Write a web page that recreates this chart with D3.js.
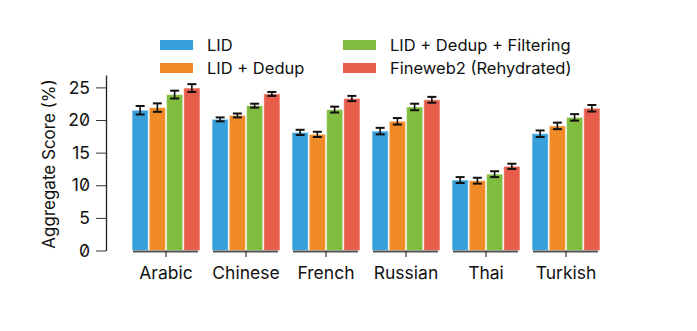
<!DOCTYPE html>
<html><head><meta charset="utf-8">
<script src="https://cdn.jsdelivr.net/npm/d3@7/dist/d3.min.js"></script>
<style>
body{margin:0;background:#fff;}
svg{font-family:Inter,"Noto Sans",sans-serif;font-feature-settings:"zero" 1;}
</style></head>
<body><svg id="c" width="697" height="331"></svg>
<script>
const categories = ["Arabic","Chinese","French","Russian","Thai","Turkish"];
const seriesNames = ["LID","LID + Dedup","LID + Dedup + Filtering","Fineweb2 (Rehydrated)"];
const lidValues      = [21.5, 20.1, 18.1, 18.3, 10.8, 17.9];
const dedupValues    = [21.9, 20.7, 17.8, 19.8, 10.7, 19.1];
const filterValues   = [23.9, 22.2, 21.6, 22.0, 11.7, 20.4];
const fineweb2Values = [24.9, 24.0, 23.3, 23.1, 12.9, 21.8];
const lidErr      = [0.65, 0.3, 0.4, 0.5, 0.45, 0.5];
const dedupErr    = [0.65, 0.3, 0.4, 0.5, 0.45, 0.5];
const filterErr   = [0.6, 0.3, 0.45, 0.5, 0.45, 0.5];
const fineweb2Err = [0.6, 0.3, 0.4, 0.45, 0.4, 0.5];
const yTicks = [0,5,10,15,20,25];
const colors = ["#379fd9","#f08a24","#80bd3e","#e85d4a"];

const values = [lidValues, dedupValues, filterValues, fineweb2Values];
const errs = [lidErr, dedupErr, filterErr, fineweb2Err];

const svg = d3.select("#c");
const x = d3.scaleBand().domain(categories).range([126,606]).paddingInner(0.125).paddingOuter(0.0625);
const xi = d3.scaleBand().domain(d3.range(4)).range([0, x.bandwidth()]).padding(0.06);
const y = d3.scaleLinear().domain([0,26.9]).range([250.5,75]);

categories.forEach((cat,ci)=>{
  const g = svg.append("g").attr("transform",`translate(${x(cat)},0)`);
  values.forEach((vals,si)=>{
    g.append("rect").attr("x",xi(si)).attr("width",xi.bandwidth())
      .attr("y",y(vals[ci])).attr("height",y(0)-y(vals[ci]))
      .attr("fill",colors[si]).attr("stroke","#fff").attr("stroke-opacity",0.45).attr("stroke-width",1.2);
  });
  values.forEach((vals,si)=>{
    const cx = xi(si)+xi.bandwidth()/2, lo=y(vals[ci]-errs[si][ci]), hi=y(vals[ci]+errs[si][ci]);
    g.append("line").attr("x1",cx).attr("x2",cx).attr("y1",lo).attr("y2",hi).attr("stroke","#111").attr("stroke-width",1.6);
    [lo,hi].forEach(yy=>g.append("line").attr("x1",cx-4.5).attr("x2",cx+4.5).attr("y1",yy).attr("y2",yy).attr("stroke","#111").attr("stroke-width",2));
  });
  g.append("line").attr("x1",2).attr("x2",x.bandwidth()-3).attr("y1",251.5).attr("y2",251.5).attr("stroke","#555").attr("stroke-width",2);
});

const xAxis = d3.axisBottom(x).tickSize(6).tickSizeOuter(0).tickPadding(10);
const xg = svg.append("g").attr("transform","translate(0,251)").call(xAxis);
xg.select(".domain").remove();
xg.selectAll(".tick line").attr("stroke","#333").attr("stroke-width",1.2);
xg.selectAll(".tick text").attr("font-size",17.5).attr("fill","#111").attr("font-family","Inter,'Noto Sans',sans-serif");

const yAxis = d3.axisLeft(y).tickValues(yTicks).tickSize(10).tickSizeOuter(0).tickPadding(6);
const yg = svg.append("g").attr("transform","translate(106,0)").call(yAxis);
yg.select(".domain").attr("stroke","#222").attr("stroke-width",1.3);
yg.selectAll(".tick line").attr("stroke","#333").attr("stroke-width",1);
yg.selectAll(".tick text").attr("font-size",17.5).attr("fill","#111").attr("font-family","Inter,'Noto Sans',sans-serif");

svg.append("text").attr("transform","translate(55,164) rotate(-90)").attr("text-anchor","middle")
  .attr("font-size",17).attr("fill","#111").text("Aggregate Score (%)");

const legPos = [[160,45],[160,68],[343,45],[343,68]];
seriesNames.forEach((n,i)=>{
  const [lx,ly]=legPos[i];
  svg.append("rect").attr("x",lx).attr("y",ly-5).attr("width",33).attr("height",10).attr("fill",colors[i]);
  svg.append("text").attr("x",lx+47).attr("y",ly+6).attr("font-size",16.5).attr("fill","#111").text(n);
});
</script></body></html>
